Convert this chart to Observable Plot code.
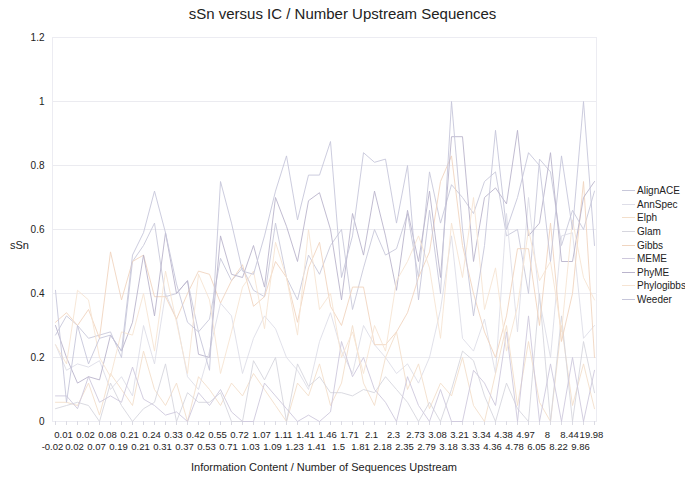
<!DOCTYPE html>
<html><head><meta charset="utf-8">
<script src="https://cdn.jsdelivr.net/npm/d3@7"></script>
<script src="https://cdn.jsdelivr.net/npm/@observablehq/plot@0.6"></script>
<style>
body{margin:0;background:#fff;font-family:"Liberation Sans",Arial,Helvetica,sans-serif;}
#wrap{position:relative;width:685px;height:477px;overflow:hidden;}
#chart{position:absolute;left:0;top:0;}
.lbl{position:absolute;color:#222;white-space:nowrap;}
#title{top:5px;left:0;width:685px;text-align:center;font-size:15px;}
#ylab{left:10px;top:239px;font-size:11px;}
#xlab{top:461px;left:0;width:648px;text-align:center;font-size:11px;}
#legend{position:absolute;left:622px;top:184px;font-size:10px;color:#222;}
#legend .row{height:13.6px;display:flex;align-items:center;}
#legend .sw{width:13px;height:1px;margin-right:2px;}
</style></head><body>
<div id="wrap">
<div id="chart"></div>
<div id="title" class="lbl">sSn versus IC / Number Upstream Sequences</div>
<div id="ylab" class="lbl">sSn</div>
<div id="xlab" class="lbl">Information Content / Number of Sequences Upstream</div>
<div id="legend"></div>
</div>
<script>
const categories = ["-0.02","0.01","0.02","0.02","0.07","0.08","0.19","0.21","0.21","0.24","0.31","0.33","0.37","0.42","0.53","0.55","0.71","0.72","1.03","1.07","1.09","1.11","1.23","1.41","1.41","1.46","1.5","1.71","1.81","2.1","2.18","2.3","2.35","2.73","2.79","3.08","3.18","3.21","3.33","3.34","4.36","4.38","4.78","4.97","6.05","8","8.22","8.44","9.86","19.98"];
const seriesNames = ["AlignACE","AnnSpec","Elph","Glam","Gibbs","MEME","PhyME","Phylogibbs","Weeder"];
const AlignACE = [0.27,0.33,0.30,0.26,0.27,0.28,0.20,0.50,0.55,0.62,0.39,0.40,0.44,0.28,0.32,0.51,0.44,0.48,0.41,0.39,0.62,0.45,0.38,0.52,0.46,0.55,0.60,0.35,0.48,0.60,0.52,0.54,0.65,0.45,0.78,0.62,0.74,0.70,0.65,0.75,0.78,0.58,0.60,0.40,0.82,0.78,0.55,0.66,0.60,0.72];
const AnnSpec = [0.24,0.16,0.18,0.17,0.19,0.10,0.14,0.08,0.30,0.18,0.40,0.32,0.14,0.10,0.22,0.37,0.33,0.15,0.26,0.33,0.29,0.20,0.16,0.10,0.25,0.34,0.22,0.15,0.30,0.24,0.20,0.15,0.18,0.12,0.20,0.35,0.58,0.26,0.22,0.32,0.15,0.65,0.28,0.70,0.38,0.20,0.58,0.59,0.26,0.30];
const Elph = [0.06,0.06,0.05,0.12,0.02,0.15,0.10,0.05,0.22,0.10,0.05,0.12,0.00,0.14,0.10,0.05,0.12,0.08,0.15,0.10,0.05,0.00,0.12,0.08,0.18,0.05,0.12,0.30,0.12,0.05,0.20,0.28,0.10,0.18,0.04,0.12,0.08,0.20,0.05,0.00,0.15,0.30,0.05,0.25,0.06,0.00,0.30,0.05,0.18,0.04];
const Glam = [0.04,0.05,0.06,0.05,0.00,0.12,0.05,0.00,0.04,0.06,0.18,0.00,0.09,0.06,0.06,0.09,0.00,0.00,0.19,0.13,0.20,0.00,0.18,0.11,0.14,0.09,0.09,0.08,0.10,0.09,0.14,0.10,0.06,0.00,0.06,0.00,0.10,0.22,0.19,0.08,0.00,0.12,0.04,0.00,0.40,0.00,0.33,0.00,0.25,0.09];
const Gibbs = [0.31,0.34,0.30,0.35,0.26,0.53,0.38,0.50,0.52,0.39,0.39,0.32,0.40,0.47,0.46,0.37,0.44,0.49,0.36,0.39,0.50,0.45,0.31,0.48,0.56,0.36,0.30,0.42,0.42,0.24,0.24,0.28,0.34,0.45,0.53,0.75,0.83,0.55,0.40,0.28,0.20,0.33,0.54,0.54,0.30,0.62,0.25,0.40,0.75,0.20];
const MEME = [0.08,0.08,0.04,0.14,0.06,0.08,0.06,0.17,0.07,0.05,0.02,0.03,0.00,0.09,0.05,0.10,0.03,0.00,0.00,0.12,0.08,0.04,0.00,0.02,0.00,0.03,0.25,0.14,0.20,0.10,0.06,0.00,0.14,0.05,0.00,0.10,0.00,0.00,0.16,0.12,0.05,0.28,0.00,0.33,0.00,0.18,0.00,0.20,0.00,0.16];
const PhyME = [0.30,0.20,0.12,0.14,0.13,0.27,0.22,0.31,0.52,0.33,0.59,0.40,0.44,0.21,0.20,0.58,0.46,0.45,0.55,0.42,0.70,0.61,0.50,0.69,0.715,0.60,0.38,0.65,0.52,0.72,0.58,0.41,0.66,0.50,0.72,0.45,0.89,0.89,0.50,0.70,0.73,0.68,0.91,0.58,0.62,0.84,0.50,0.50,0.70,0.75];
const Phylogibbs = [0.24,0.18,0.41,0.38,0.20,0.14,0.28,0.27,0.40,0.22,0.47,0.31,0.15,0.46,0.38,0.15,0.28,0.42,0.47,0.29,0.56,0.45,0.27,0.60,0.35,0.40,0.20,0.28,0.15,0.30,0.22,0.44,0.50,0.58,0.48,0.26,0.62,0.45,0.70,0.35,0.48,0.22,0.36,0.60,0.44,0.50,0.28,0.63,0.45,0.38];
const Weeder = [0.41,0.06,0.30,0.18,0.26,0.27,0.22,0.52,0.59,0.72,0.59,0.43,0.31,0.28,0.16,0.75,0.62,0.47,0.46,0.58,0.72,0.83,0.63,0.77,0.77,0.875,0.45,0.58,0.84,0.81,0.82,0.62,0.80,0.38,0.66,0.40,1.0,0.60,0.33,0.55,0.91,0.60,0.70,0.84,0.80,0.50,0.83,0.60,1.0,0.55];
const yTicks = [0,0.2,0.4,0.6,0.8,1,1.2];

const seriesValues = [AlignACE,AnnSpec,Elph,Glam,Gibbs,MEME,PhyME,Phylogibbs,Weeder];
const palette = ["#c8c8da","#dedee8","#f3dfcb","#d6d6de","#f0d5c0","#cec8dc","#bab4cc","#f6e4d3","#c6c6da"];
const idx = d3.range(categories.length);
const rows = seriesNames.flatMap((name, s) => seriesValues[s].map((v, i) => ({series: name, i, v})));

const chart = Plot.plot({
  width: 685, height: 477,
  marginLeft: 52, marginRight: 89, marginTop: 37, marginBottom: 56,
  style: {fontFamily: '"Liberation Sans", Arial, sans-serif', fontSize: "10px", color: "#222", background: "#fff"},
  x: {type: "point", domain: idx, padding: 0},
  y: {domain: [0, 1.2]},
  color: {domain: seriesNames, range: palette},
  marks: [
    Plot.gridY(yTicks, {stroke: "#ebebf0", strokeOpacity: 1}),
    Plot.frame({stroke: "#ececf2"}),
    Plot.axisY(yTicks, {tickSize: 0, tickPadding: 8, tickFormat: d => String(+d.toFixed(1)), label: null, fontSize: 10}),
    Plot.axisX(idx, {tickSize: 4, stroke: "#dcdce4", tickFormat: () => "", label: null}),
    Plot.axisX(d3.range(1, categories.length, 2), {tickSize: 0, tickPadding: 10, dx: -3, tickFormat: i => categories[i], label: null, fontSize: 9.5}),
    Plot.axisX(d3.range(0, categories.length, 2), {tickSize: 0, tickPadding: 22, dx: -3, tickFormat: i => categories[i], label: null, fontSize: 9.5}),
    Plot.line(rows, {x: "i", y: "v", z: "series", stroke: "series", strokeWidth: 0.9})
  ]
});
document.getElementById("chart").appendChild(chart);

const leg = document.getElementById("legend");
seriesNames.forEach((n, s) => {
  const r = document.createElement("div"); r.className = "row";
  const sw = document.createElement("div"); sw.className = "sw"; sw.style.background = palette[s];
  const t = document.createElement("span"); t.textContent = n;
  r.appendChild(sw); r.appendChild(t); leg.appendChild(r);
});
</script>
</body></html>
